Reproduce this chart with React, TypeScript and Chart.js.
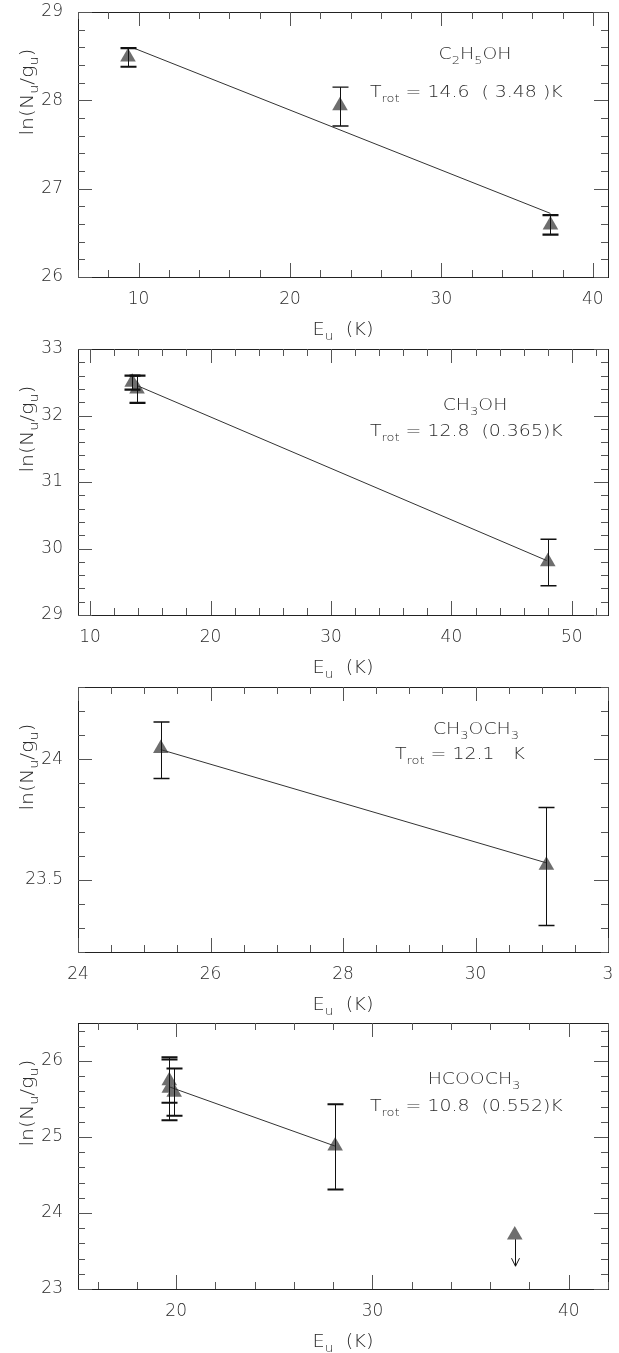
import React, { useEffect, useRef } from "react";
import { Chart, registerables } from "chart.js";
Chart.register(...registerables);

// ---------------- Panel 1 : C2H5OH ----------------
const p1EnergyK = [9.3, 23.3, 37.2];
const p1LnNg = [28.49, 27.94, 26.59];
const p1ErrLow = [28.38, 27.71, 26.48];
const p1ErrHigh = [28.59, 28.15, 26.7];
const p1FitX = [9.7, 37.2];
const p1FitY = [28.59, 26.72];
const p1XTicks = [10, 20, 30, 40];
const p1XTickLabels = ["10", "20", "30", "40"];
const p1YTicks = [26, 27, 28, 29];
const p1YTickLabels = ["26", "27", "28", "29"];
const p1Name = "C_{2}H_{5}OH";
const p1Trot = "T_{rot} = 14.6  ( 3.48 )K";

// ---------------- Panel 2 : CH3OH ----------------
const p2EnergyK = [13.5, 13.9, 48.0];
const p2LnNg = [32.5, 32.4, 29.8];
const p2ErrLow = [32.39, 32.19, 29.44];
const p2ErrHigh = [32.6, 32.6, 30.14];
const p2FitX = [13.9, 47.9];
const p2FitY = [32.45, 29.82];
const p2XTicks = [10, 20, 30, 40, 50];
const p2XTickLabels = ["10", "20", "30", "40", "50"];
const p2YTicks = [29, 30, 31, 32, 33];
const p2YTickLabels = ["29", "30", "31", "32", "33"];
const p2Name = "CH_{3}OH";
const p2Trot = "T_{rot} = 12.8  (0.365)K";

// ---------------- Panel 3 : CH3OCH3 ----------------
const p3EnergyK = [25.25, 31.07];
const p3LnNg = [24.045, 23.56];
const p3ErrLow = [23.92, 23.31];
const p3ErrHigh = [24.155, 23.8];
const p3FitX = [25.25, 31.07];
const p3FitY = [24.04, 23.57];
const p3XTicks = [24, 26, 28, 30, 32];
const p3XTickLabels = ["24", "26", "28", "30", "3"];
const p3YTicks = [23.5, 24];
const p3YTickLabels = ["23.5", "24"];
const p3Name = "CH_{3}OCH_{3}";
const p3Trot = "T_{rot} = 12.1   K";

// ---------------- Panel 4 : HCOOCH3 ----------------
const p4EnergyK = [19.65, 19.65, 19.9, 28.1];
const p4LnNg = [25.74, 25.64, 25.59, 24.88];
const p4ErrLow = [25.45, 25.22, 25.28, 24.31];
const p4ErrHigh = [26.02, 26.05, 25.9, 25.43];
const p4LimitX = [37.25];
const p4LimitY = [23.71];
const p4LimitTo = [23.3];
const p4FitX = [19.65, 28.1];
const p4FitY = [25.66, 24.88];
const p4XTicks = [20, 30, 40];
const p4XTickLabels = ["20", "30", "40"];
const p4YTicks = [23, 24, 25, 26];
const p4YTickLabels = ["23", "24", "25", "26"];
const p4Name = "HCOOCH_{3}";
const p4Trot = "T_{rot} = 10.8  (0.552)K";

const xTitle = "E_{u}  (K)";
const yTitle = "ln(N_{u}/g_{u})";

const FONT = "'DejaVu Sans', 'Liberation Sans', sans-serif";
const TEXT = "#2a2a2a";
const BOX_TOP = 12;

type Panel = {
  top: number; height: number; boxH: number;
  xMin: number; xMax: number; yMin: number; yMax: number;
  xTicks: number[]; xTickLabels: string[]; yTicks: number[]; yTickLabels: string[];
  xMinor: number; yMinor: number;
  px: number[]; py: number[]; lo: number[]; hi: number[]; capW: number[];
  fitX: number[]; fitY: number[];
  limX?: number[]; limY?: number[]; limTo?: number[];
  name: string; trot: string;
  nameX: number; nameDy: number; trotX: number; trotDy: number;
};

const panels: Panel[] = [
  {
    top: 0, height: 352, boxH: 265,
    xMin: 6, xMax: 41, yMin: 26, yMax: 29,
    xTicks: p1XTicks, xTickLabels: p1XTickLabels, yTicks: p1YTicks, yTickLabels: p1YTickLabels,
    xMinor: 2, yMinor: 0.2,
    px: p1EnergyK, py: p1LnNg, lo: p1ErrLow, hi: p1ErrHigh, capW: [2.2, 1.4, 2.2],
    fitX: p1FitX, fitY: p1FitY,
    name: p1Name, trot: p1Trot, nameX: 475, nameDy: 47, trotX: 370, trotDy: 85,
  },
  {
    top: 337, height: 352, boxH: 266,
    xMin: 9, xMax: 53, yMin: 29, yMax: 33,
    xTicks: p2XTicks, xTickLabels: p2XTickLabels, yTicks: p2YTicks, yTickLabels: p2YTickLabels,
    xMinor: 2, yMinor: 0.2,
    px: p2EnergyK, py: p2LnNg, lo: p2ErrLow, hi: p2ErrHigh, capW: [2.2, 2.2, 1.4],
    fitX: p2FitX, fitY: p2FitY,
    name: p2Name, trot: p2Trot, nameX: 475, nameDy: 61, trotX: 370, trotDy: 87,
  },
  {
    top: 675, height: 352, boxH: 265,
    xMin: 24, xMax: 32, yMin: 23.2, yMax: 24.3,
    xTicks: p3XTicks, xTickLabels: p3XTickLabels, yTicks: p3YTicks, yTickLabels: p3YTickLabels,
    xMinor: 0.5, yMinor: 0.1,
    px: p3EnergyK, py: p3LnNg, lo: p3ErrLow, hi: p3ErrHigh, capW: [1.4, 1.4],
    fitX: p3FitX, fitY: p3FitY,
    name: p3Name, trot: p3Trot, nameX: 476, nameDy: 47, trotX: 395, trotDy: 72,
  },
  {
    top: 1011, height: 342, boxH: 266,
    xMin: 15, xMax: 42, yMin: 23, yMax: 26.5,
    xTicks: p4XTicks, xTickLabels: p4XTickLabels, yTicks: p4YTicks, yTickLabels: p4YTickLabels,
    xMinor: 2, yMinor: 0.2,
    px: p4EnergyK, py: p4LnNg, lo: p4ErrLow, hi: p4ErrHigh, capW: [2, 2, 2, 2],
    fitX: p4FitX, fitY: p4FitY,
    limX: p4LimitX, limY: p4LimitY, limTo: p4LimitTo,
    name: p4Name, trot: p4Trot, nameX: 474, nameDy: 61, trotX: 370, trotDy: 88,
  },
];

function parseRich(s: string) {
  const parts: { t: string; sub: boolean }[] = [];
  const re = /_\{([^}]*)\}/g;
  let last = 0;
  let m: RegExpExecArray | null;
  while ((m = re.exec(s))) {
    if (m.index > last) parts.push({ t: s.slice(last, m.index), sub: false });
    parts.push({ t: m[1], sub: true });
    last = re.lastIndex;
  }
  if (last < s.length) parts.push({ t: s.slice(last), sub: false });
  return parts;
}

function drawRich(
  ctx: CanvasRenderingContext2D, s: string, x: number, y: number,
  size: number, align: "left" | "center", sx: number, rotate = false
) {
  const parts = parseRich(s);
  ctx.save();
  ctx.translate(x, y);
  if (rotate) ctx.rotate(-Math.PI / 2);
  ctx.scale(sx, 1);
  ctx.fillStyle = TEXT;
  ctx.textBaseline = "alphabetic";
  ctx.textAlign = "left";
  const fontOf = (sub: boolean) => `200 ${sub ? Math.round(size * 0.7) : size}px ${FONT}`;
  let w = 0;
  for (const p of parts) {
    ctx.font = fontOf(p.sub);
    w += ctx.measureText(p.t).width;
  }
  let cx = align === "center" ? -w / 2 : 0;
  for (const p of parts) {
    ctx.font = fontOf(p.sub);
    ctx.fillText(p.t, cx, p.sub ? size * 0.3 : 0);
    cx += ctx.measureText(p.t).width;
  }
  ctx.restore();
}

function makePlugin(P: Panel) {
  return {
    id: "physPanel",
    beforeDatasetsDraw(chart: any) {
      const { ctx, chartArea: a, scales } = chart;
      const x = scales.x, y = scales.y;
      ctx.save();
      ctx.strokeStyle = "#222";
      ctx.lineWidth = 1;
      ctx.strokeRect(Math.round(a.left) + 0.5, Math.round(a.top) + 0.5,
        Math.round(a.right - a.left), Math.round(a.bottom - a.top));
      ctx.strokeStyle = "#555";
      const majLen = 14, minLen = 7;
      const isMaj = (arr: number[], v: number) => arr.some((t) => Math.abs(t - v) < 1e-6);
      const line = (x1: number, y1: number, x2: number, y2: number) => {
        ctx.beginPath(); ctx.moveTo(x1, y1); ctx.lineTo(x2, y2); ctx.stroke();
      };
      for (let n = Math.ceil(P.xMin / P.xMinor - 1e-9); n * P.xMinor <= P.xMax + 1e-9; n++) {
        const v = +(n * P.xMinor).toFixed(6);
        const len = isMaj(P.xTicks, v) ? majLen : minLen;
        const px = Math.round(x.getPixelForValue(v)) + 0.5;
        line(px, a.bottom, px, a.bottom - len);
        line(px, a.top, px, a.top + len);
      }
      for (let n = Math.ceil(P.yMin / P.yMinor - 1e-9); n * P.yMinor <= P.yMax + 1e-9; n++) {
        const v = +(n * P.yMinor).toFixed(6);
        const len = isMaj(P.yTicks, v) ? majLen : minLen;
        const py = Math.round(y.getPixelForValue(v)) + 0.5;
        line(a.left, py, a.left + len, py);
        line(a.right, py, a.right - len, py);
      }
      if (P.limX && P.limY && P.limTo) {
        ctx.strokeStyle = "#111";
        ctx.lineWidth = 1;
        for (let i = 0; i < P.limX.length; i++) {
          const px = Math.round(x.getPixelForValue(P.limX[i])) + 0.5;
          const y0 = y.getPixelForValue(P.limY[i]);
          const y1 = y.getPixelForValue(P.limTo[i]);
          line(px, y0, px, y1);
          ctx.beginPath();
          ctx.moveTo(px - 4, y1 - 8); ctx.lineTo(px, y1); ctx.lineTo(px + 4, y1 - 8);
          ctx.stroke();
        }
      }
      ctx.restore();
    },
    afterDatasetsDraw(chart: any) {
      const { ctx, chartArea: a, scales } = chart;
      const x = scales.x, y = scales.y;
      ctx.save();
      ctx.strokeStyle = "#111";
      for (let i = 0; i < P.px.length; i++) {
        const px = Math.round(x.getPixelForValue(P.px[i])) + 0.5;
        const yl = y.getPixelForValue(P.lo[i]);
        const yh = y.getPixelForValue(P.hi[i]);
        ctx.lineWidth = 1;
        ctx.beginPath(); ctx.moveTo(px, yl); ctx.lineTo(px, yh); ctx.stroke();
        ctx.lineWidth = P.capW[i];
        ctx.beginPath();
        ctx.moveTo(px - 8, yl); ctx.lineTo(px + 8, yl);
        ctx.moveTo(px - 8, yh); ctx.lineTo(px + 8, yh);
        ctx.stroke();
      }
      ctx.restore();
      drawRich(ctx, P.name, P.nameX, a.top + P.nameDy, 16, "center", 1.18);
      drawRich(ctx, P.trot, P.trotX, a.top + P.trotDy, 16, "left", 1.18);
      drawRich(ctx, xTitle, (a.left + a.right) / 2, a.bottom + 58, 17, "center", 1.14);
      drawRich(ctx, yTitle, 33, a.top + 80, 17, "center", 1.2, true);
    },
  };
}

function PanelChart({ P }: { P: Panel }) {
  const ref = useRef<HTMLCanvasElement | null>(null);
  useEffect(() => {
    if (!ref.current) return;
    const pts = P.px.map((v, i) => ({ x: v, y: P.py[i] }));
    const fit = P.fitX.map((v, i) => ({ x: v, y: P.fitY[i] }));
    const lim = P.limX ? P.limX.map((v, i) => ({ x: v, y: P.limY![i] })) : [];
    const tickFont = { family: FONT, size: 17, weight: "200" as any };
    const chart = new Chart(ref.current, {
      type: "scatter",
      data: {
        datasets: [
          {
            type: "line" as any,
            data: fit,
            showLine: true,
            borderColor: "#333",
            borderWidth: 1,
            pointRadius: 0,
            fill: false,
          } as any,
          {
            data: pts,
            pointStyle: "triangle",
            pointRadius: 9,
            pointBackgroundColor: "#6e6e6e",
            pointBorderWidth: 0,
            borderWidth: 0,
          } as any,
          {
            data: lim,
            pointStyle: "triangle",
            pointRadius: 9,
            pointBackgroundColor: "#6e6e6e",
            pointBorderWidth: 0,
            borderWidth: 0,
          } as any,
        ],
      },
      options: {
        responsive: false,
        animation: false,
        devicePixelRatio: 1,
        layout: { padding: { top: BOX_TOP, left: 0, right: 11, bottom: 0 }, autoPadding: false } as any,
        plugins: { legend: { display: false }, tooltip: { enabled: false } },
        scales: {
          x: {
            type: "linear",
            position: "bottom",
            min: P.xMin,
            max: P.xMax,
            grid: { display: false, drawTicks: false },
            border: { display: false },
            ticks: {
              font: tickFont,
              color: TEXT,
              padding: 12,
              maxRotation: 0,
              autoSkip: false,
              callback: (v: any) => {
                const k = P.xTicks.findIndex((t) => Math.abs(t - Number(v)) < 1e-6);
                return k >= 0 ? P.xTickLabels[k] : "";
              },
            },
            afterBuildTicks: (s: any) => { s.ticks = P.xTicks.map((v) => ({ value: v })); },
            afterFit: (s: any) => {
              s.height = P.height - BOX_TOP - P.boxH;
              s.paddingLeft = 0; s.paddingRight = 0; s.paddingTop = 0; s.paddingBottom = 0;
            },
          },
          y: {
            type: "linear",
            position: "left",
            min: P.yMin,
            max: P.yMax,
            grid: { display: false, drawTicks: false },
            border: { display: false },
            ticks: {
              font: tickFont,
              color: TEXT,
              padding: 15,
              autoSkip: false,
              callback: (v: any) => {
                const k = P.yTicks.findIndex((t) => Math.abs(t - Number(v)) < 1e-6);
                return k >= 0 ? P.yTickLabels[k] : "";
              },
            },
            afterBuildTicks: (s: any) => { s.ticks = P.yTicks.map((v) => ({ value: v })); },
            afterFit: (s: any) => {
              s.width = 78;
              s.paddingLeft = 0; s.paddingRight = 0; s.paddingTop = 0; s.paddingBottom = 0;
            },
          },
        },
      } as any,
      plugins: [makePlugin(P)],
    });
    return () => chart.destroy();
  }, [P]);
  return (
    <canvas
      ref={ref}
      width={619}
      height={P.height}
      style={{ position: "absolute", left: 0, top: P.top, width: 619, height: P.height }}
    />
  );
}

export default function App() {
  return (
    <div
      style={{
        position: "absolute", left: 0, top: 0, width: 619, height: 1353,
        background: "#fff", overflow: "hidden",
      }}
    >
      {panels.map((P, i) => (
        <PanelChart key={i} P={P} />
      ))}
    </div>
  );
}
